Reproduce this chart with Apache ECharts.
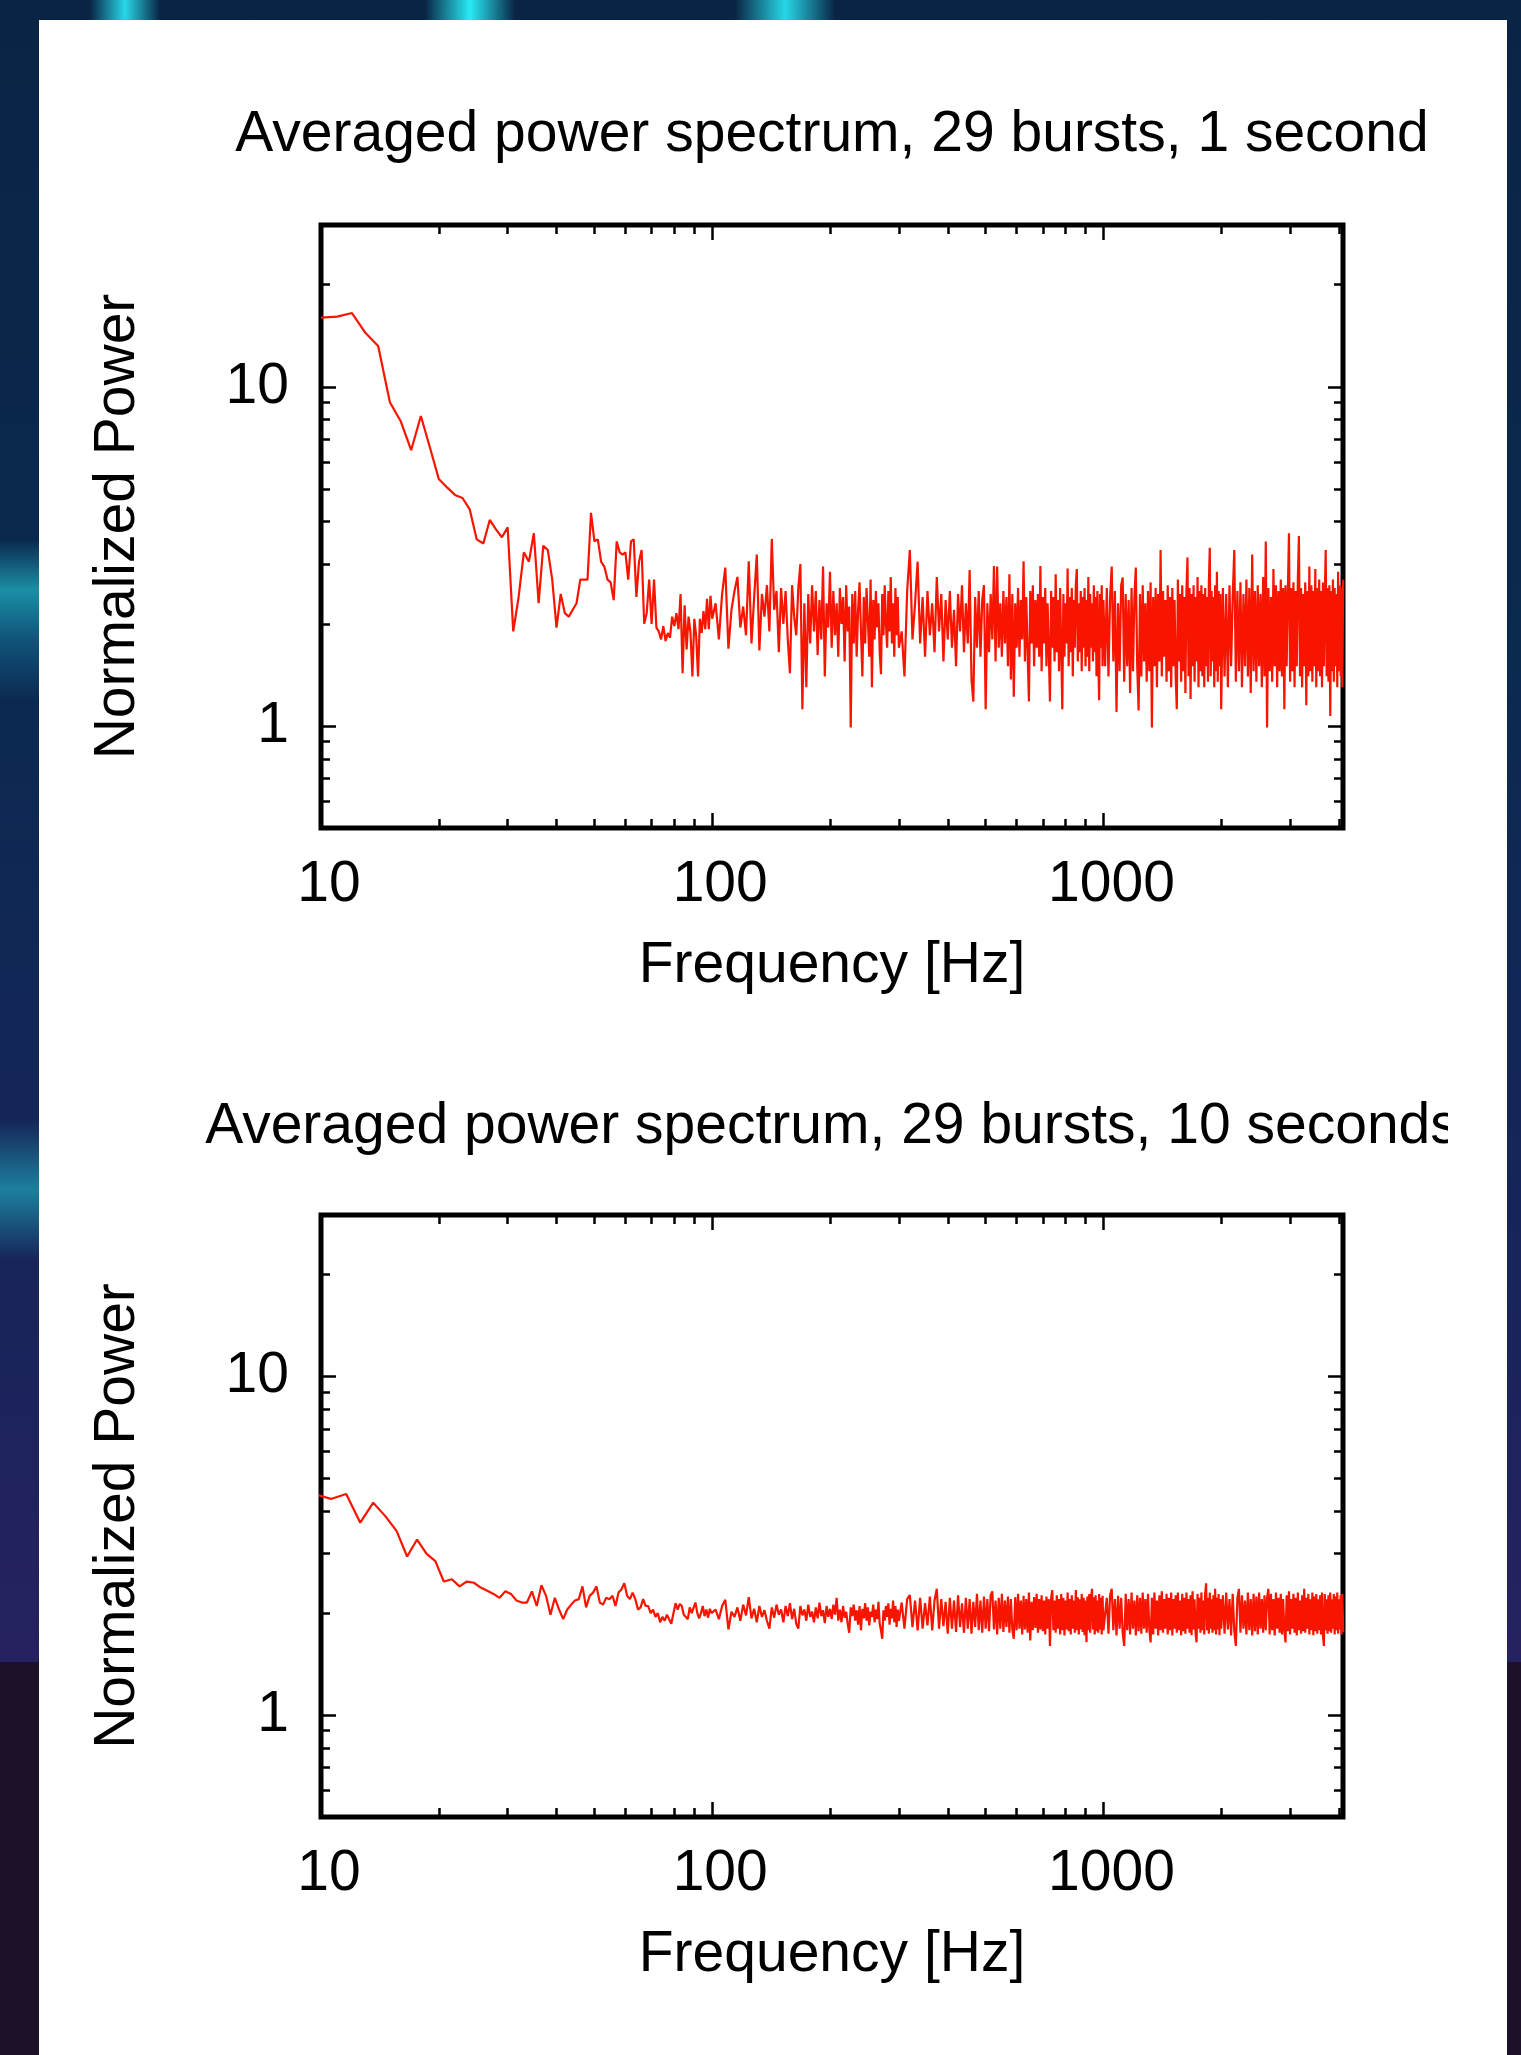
<!DOCTYPE html>
<html><head><meta charset="utf-8">
<script src="https://cdn.jsdelivr.net/npm/echarts@6/dist/echarts.min.js"></script>
<style>
html,body{margin:0;padding:0}
body{width:1521px;height:2055px;overflow:hidden;position:relative;
background:
 linear-gradient(90deg, transparent 90px, rgba(40,225,240,0.95) 125px, transparent 160px, transparent 425px, rgba(40,235,245,1) 470px, transparent 515px, transparent 735px, rgba(40,225,240,0.95) 785px, transparent 835px) left top / 100% 20px no-repeat,
 linear-gradient(180deg, transparent 540px, rgba(30,160,180,0.85) 590px, rgba(20,110,150,0.6) 640px, transparent 700px, transparent 1120px, rgba(30,150,175,0.8) 1190px, transparent 1260px) left top / 39px 1662px no-repeat,
 linear-gradient(180deg, #0a2445 0%, #0b2a50 40%, #17255a 75%, #262160 100%) left top / 100% 1662px no-repeat,
 #1c1129;}
#panel{position:absolute;left:39px;top:20px;width:1468px;height:2035px;background:#fff}
#chart{position:absolute;left:0;top:0;width:1521px;height:2055px}
</style></head><body><div id="panel"></div><div id="chart"></div>
<script>
// ---- data ----
const titleTop = 'Averaged power spectrum, 29 bursts, 1 second';
const titleBottom = 'Averaged power spectrum, 29 bursts, 10 seconds';
const xName = 'Frequency [Hz]';
const yName = 'Normalized Power';
const xMajorTicks = [10, 100, 1000];
const xMinorTicks = [20,30,40,50,60,70,80,90,200,300,400,500,600,700,800,900,2000,3000,4000];
const yMajorTicks = [1, 10];
const yMinorTicks = [0.6,0.7,0.8,0.9,2,3,4,5,6,7,8,9,20];

// frequency bins of each band (Hz): first bin and bin width
const bandStartTop = [10, 102, 305, 1010, 2020];
const bandStartBottom = [9.6, 102, 305, 1010, 2020];
const bandStep = [1, 2, 5, 10, 20];

// 1-second spectrum
const topA = [16.0,16.1,16.5,14.4,13.2,9.0,7.9,6.5,8.2,6.6,5.35,5.05,4.8,4.7,4.35,3.55,3.45,4.05,3.8,3.6,3.85,1.9,2.4,3.25,3.05,3.7,2.3,3.4,3.3,2.7,1.95,2.45,2.15,2.1,2.2,2.3,2.7,2.7,2.7,4.25,3.5,3.55,3.05,2.95,2.7,2.65,2.35,3.5,3.25,3.2,3.25,2.7,3.5,3.55,2.4,3.05,3.3,2.0,2.15,2.7,2.0,2.7,1.95,1.9,1.8,1.97,1.78,1.88,1.82,2.1,1.97,2.15,1.93,2.45,1.43,2.27,1.68,2.1,1.88,1.4,2.07,1.84,1.4,2.07,1.88,2.18,1.93,2.37,1.93,2.42,2.07];
const topB = [2.3,1.8,2.45,2.93,1.69,2.2,2.5,2.75,1.95,2.25,1.85,3.06,1.75,2.4,3.2,1.67,2.45,2.1,2.6,1.9,3.56,2.2,2.5,1.65,2.55,2.0,2.5,1.8,1.43,2.6,2.1,1.85,2.55,3.0,1.12,2.3,1.3,2.45,1.75,2.6,1.9,2.5,1.62,2.35,1.8,2.95,1.4,2.3,1.95,2.85,1.7,2.5,1.85,2.3,1.6,2.55,2.0,2.4,1.55,2.6,1.9,2.25,0.99,2.45,1.75,2.5,1.6,2.2,2.65,1.9,1.4,2.4,1.75,2.55,2.05,1.6,2.7,1.3,2.35,1.8,2.5,1.95,2.3,1.65,1.42,2.45,1.85,2.6,2.0,1.7,2.5,1.9,2.75,1.75,2.3,1.6,2.55,1.85,2.4,1.7];
const topC = [1.9,1.4,2.5,3.3,1.8,2.3,3.05,1.75,2.4,1.6,2.5,1.85,2.3,1.65,2.75,1.9,2.45,1.55,2.35,1.8,2.5,1.7,2.2,1.5,2.45,1.9,2.6,1.65,2.3,1.75,2.88,1.37,1.18,2.4,1.7,2.5,1.6,2.35,2.6,1.12,2.3,1.65,2.45,1.8,2.96,1.55,2.95,1.7,2.3,1.6,2.5,1.75,2.4,1.5,2.8,1.37,2.45,1.22,2.3,1.7,2.55,1.6,2.35,1.8,3.06,1.55,2.4,1.65,1.18,2.5,1.75,2.6,1.5,2.35,1.7,2.45,1.6,2.96,1.45,2.4,1.75,2.55,1.5,2.3,1.65,1.18,2.5,1.7,2.4,1.55,2.8,1.65,2.35,1.45,2.55,1.7,1.12,2.45,1.6,2.3,1.75,2.91,1.5,2.4,1.65,2.55,1.4,2.35,1.7,2.6,2.9,1.55,2.3,1.65,2.5,1.45,2.4,1.7,2.55,1.5,2.35,1.6,2.75,1.45,2.45,1.7,2.3,1.55,2.6,1.65,2.4,1.4,2.5,1.6,1.19,2.45,1.7,2.6,1.5,2.35];
const topD1 = [1.5,2.55,1.4,2.4,2.95,1.55,2.5,1.1,2.3,1.45,2.6,2.74,1.35,2.45,1.5,2.35,1.25,2.55,1.45,2.4,2.93,1.5,1.11,2.45,1.4,2.6,1.55,2.3,1.35,2.5,1.45,2.65,0.99,2.4,1.5,2.55,1.3,2.45,1.55,3.3,1.4,2.5,1.6,2.35,1.35,2.6,1.45,2.4,1.3,2.55,1.5,2.35,1.4,1.12,2.7,1.55,2.45,1.35,2.6,1.45,2.4,1.25,2.5,3.14,1.4,2.55,1.2,2.45,1.5,2.6,1.35,2.4,1.55,2.75,1.3,2.5,1.45,2.6,1.4,2.45,1.3,2.55,1.5,2.4,1.35,2.65,3.35,1.4,2.5,1.55,2.4,1.3,2.6,1.45,2.85,1.35,2.5,1.5,2.45,1.12];
const topD2 = [2.55,1.4,2.45,1.3,2.6,1.5,2.4,3.3,1.35,2.5,1.45,2.65,1.3,2.45,1.5,2.7,1.4,2.55,1.25,3.2,1.45,2.5,1.35,2.6,1.5,2.45,1.3,2.75,1.4,3.5,0.99,2.55,1.45,2.4,1.35,2.9,1.5,2.6,1.3,2.5,1.45,2.7,1.4,2.55,1.12,2.6,1.5,2.45,3.7,1.35,2.55,1.45,2.65,1.3,2.5,1.5,2.7,3.63,1.4,2.55,1.3,2.45,1.5,2.65,1.15,2.5,1.4,2.95,1.45,2.6,1.35,2.5,1.5,2.9,1.3,2.55,1.45,2.7,1.4,2.5,1.3,2.65,1.5,2.45,3.3,1.4,2.55,1.35,2.6,1.07,2.5,1.45,2.7,1.35,2.55,1.5,2.45,1.3,2.85,1.45,2.6,1.4,2.55,1.3,2.7];

// 10-second spectrum
const botA = [4.5,4.35,4.5,3.7,4.24,3.87,3.5,2.94,3.3,3.0,2.85,2.48,2.52,2.4,2.48,2.46,2.38,2.33,2.28,2.22,2.32,2.28,2.18,2.15,2.15,2.32,2.1,2.42,2.25,1.98,2.22,2.05,1.92,2.05,2.12,2.18,2.2,2.4,2.08,2.25,2.3,2.4,2.15,2.12,2.22,2.2,2.25,2.1,2.3,2.35,2.45,2.25,2.2,2.3,2.2,2.05,2.08,2.2,2.1,2.1,2.0,2.05,1.95,2.0,1.88,1.95,1.9,1.98,1.92,1.86,2.0,2.14,2.05,2.13,2.1,1.98,1.95,1.92,2.08,2.0,1.98,2.15,2.0,1.93,2.0,2.1,1.96,2.05,1.94,2.06,2.0];
const botB = [2.05,1.92,2.1,2.19,1.79,2.02,1.95,2.08,1.9,2.12,1.97,2.23,1.93,2.06,1.88,2.1,1.95,2.04,1.9,1.8,2.08,1.94,2.12,1.98,2.05,1.88,2.1,1.96,2.14,1.92,2.06,1.86,1.8,2.1,1.97,2.05,1.9,2.12,1.95,2.02,1.88,2.08,1.93,2.15,1.96,2.04,1.87,2.1,1.95,2.06,1.92,2.12,1.98,2.22,1.9,2.05,1.88,2.1,1.94,2.02,1.86,1.75,2.08,1.96,2.12,1.9,2.04,1.85,2.1,1.78,2.06,1.93,2.14,1.9,2.08,1.84,2.02,1.95,2.12,1.88,2.05,1.92,2.16,1.86,1.78,1.68,2.04,1.9,2.1,1.95,2.14,1.85,2.06,1.93,2.18,1.88,2.1,1.82,2.05,1.9];
const botC = [2.15,1.8,2.2,2.26,1.82,2.18,1.78,2.22,1.8,2.14,1.84,2.24,1.78,2.18,2.36,1.8,2.2,1.83,2.16,1.74,2.22,1.8,2.18,1.76,2.26,1.82,2.14,1.75,2.22,1.8,2.2,1.74,2.16,1.82,2.28,1.78,2.18,1.75,2.24,1.8,2.2,1.77,2.26,2.32,1.79,2.18,1.73,2.22,1.8,2.28,1.76,2.18,1.82,2.24,1.75,2.2,1.79,1.68,2.23,1.78,2.28,1.8,2.18,1.73,2.25,1.79,2.2,1.75,2.3,1.66,2.16,1.78,2.23,1.81,2.28,1.75,2.2,1.79,2.26,1.77,2.18,1.73,2.24,1.8,2.2,1.6,2.22,2.34,1.78,2.18,1.75,2.26,1.8,2.2,1.73,2.28,1.78,2.22,1.72,2.18,1.79,2.3,1.77,2.2,1.73,2.26,1.8,2.18,1.75,2.34,1.78,2.23,1.73,2.2,1.79,2.28,1.76,2.22,1.72,2.18,1.64,2.24,1.78,2.28,1.75,2.2,2.36,1.79,2.23,1.73,2.26,1.77,2.18,1.75,2.28,1.79,2.22,1.73,2.25,1.78];
const botD1 = [1.78,2.22,1.74,2.26,2.36,1.78,2.2,1.72,2.25,1.8,2.22,1.75,1.6,2.28,1.78,2.2,1.73,2.3,1.8,2.18,1.72,2.26,1.77,2.22,1.74,2.3,1.8,2.2,1.75,2.28,1.79,1.64,2.22,1.73,2.3,1.8,2.18,1.72,2.26,1.78,2.32,1.75,2.2,1.8,2.28,1.73,2.22,1.78,2.3,1.72,2.2,1.8,2.26,1.75,2.3,1.78,2.18,1.72,2.28,1.77,2.22,1.74,2.3,1.8,2.2,1.75,2.26,1.72,2.32,1.79,2.2,1.74,1.64,2.28,1.8,2.22,1.75,2.3,1.78,2.18,1.73,2.28,2.45,1.78,2.22,1.74,2.3,1.8,2.2,1.75,2.26,1.78,2.36,1.73,2.22,1.79,2.28,1.72,2.2,1.8];
const botD2 = [2.26,1.74,2.3,1.79,2.2,1.72,2.28,1.78,1.6,2.22,2.36,1.75,2.26,1.8,2.18,1.73,2.3,1.78,2.2,1.72,2.28,1.77,2.24,1.73,2.3,1.8,2.2,1.75,2.26,1.78,2.22,2.36,1.73,2.28,1.78,2.2,1.72,2.3,1.8,2.22,1.75,2.28,1.73,2.2,1.78,1.64,2.26,1.77,2.32,1.73,2.2,1.8,2.28,1.75,2.22,1.72,2.3,1.78,2.18,1.74,2.26,1.77,2.36,1.75,2.22,1.8,2.28,1.73,2.2,1.78,2.3,1.72,2.24,1.77,2.28,1.74,2.2,1.78,2.26,1.73,2.3,1.72,1.6,2.28,1.78,2.2,1.74,2.26,1.77,2.3,1.75,2.2,1.8,2.28,1.73,2.24,1.78,2.3,1.74,2.2,1.79,2.26,1.73,2.28,1.76];

// ---- build ----
function buildSeries(starts, bands) {
  const out = [];
  bands.forEach((vals, b) => {
    vals.forEach((v, i) => out.push([+(starts[b] + i * bandStep[b]).toFixed(2), v]));
  });
  return out;
}
const topData = buildSeries(bandStartTop, [topA, topB, topC, topD1, topD2]);
const botData = buildSeries(bandStartBottom, [botA, botB, botC, botD1, botD2]);

const FONT = '"Liberation Sans", Arial, Helvetica, sans-serif';
const LINE = '#f81500';
const TXT = {fontSize: 57, color: '#000', fontFamily: FONT};
const fmt = v => String(v);

function tick(vals, len) {
  return {show: true, inside: true, length: len, lineStyle: {color: '#000', width: 2.5}, customValues: vals};
}
function makeX(gi) {
  const base = {type: 'log', logBase: 10, gridIndex: gi, min: 10, max: 4096,
    axisLine: {show: false, onZero: false}, splitLine: {show: false}, minorTick: {show: false}};
  return [
    Object.assign({}, base, {position: 'bottom', axisTick: tick(xMajorTicks, 15),
      axisLabel: Object.assign({show: true, customValues: xMajorTicks, formatter: fmt, margin: 29, padding: [0, 0, 0, 16]}, TXT),
      name: xName, nameLocation: 'middle', nameGap: 110, nameTextStyle: TXT}),
    Object.assign({}, base, {position: 'bottom', axisTick: tick(xMinorTicks, 9), axisLabel: {show: false}}),
    Object.assign({}, base, {position: 'top', axisTick: tick(xMajorTicks, 15), axisLabel: {show: false}}),
    Object.assign({}, base, {position: 'top', axisTick: tick(xMinorTicks, 9), axisLabel: {show: false}})
  ];
}
function makeY(gi) {
  const base = {type: 'log', logBase: 10, gridIndex: gi, min: 0.5, max: 30,
    axisLine: {show: false, onZero: false}, splitLine: {show: false}, minorTick: {show: false}};
  return [
    Object.assign({}, base, {position: 'left', axisTick: tick(yMajorTicks, 15),
      axisLabel: Object.assign({show: true, customValues: yMajorTicks, formatter: fmt, margin: 32}, TXT),
      name: yName, nameLocation: 'middle', nameGap: 174, nameRotate: 90, nameTextStyle: TXT}),
    Object.assign({}, base, {position: 'left', axisTick: tick(yMinorTicks, 9), axisLabel: {show: false}}),
    Object.assign({}, base, {position: 'right', axisTick: tick(yMajorTicks, 15), axisLabel: {show: false}}),
    Object.assign({}, base, {position: 'right', axisTick: tick(yMinorTicks, 9), axisLabel: {show: false}})
  ];
}
function lineSeries(idx, data) {
  return {type: 'line', xAxisIndex: idx, yAxisIndex: idx, data: data, showSymbol: false, symbol: 'none',
    lineStyle: {color: LINE, width: 2.2}, itemStyle: {color: LINE}, clip: true, animation: false, z: 3};
}

const chart = echarts.init(document.getElementById('chart'), null, {renderer: 'canvas'});
chart.setOption({
  backgroundColor: 'transparent',
  animation: false,
  title: [
    {text: titleTop, left: 832, top: 107, textAlign: 'center', padding: 0,
     textStyle: Object.assign({fontWeight: 'normal'}, TXT)},
    {text: titleBottom, left: 832, top: 1099, textAlign: 'center', padding: 0,
     textStyle: Object.assign({fontWeight: 'normal'}, TXT)}
  ],
  grid: [
    {left: 321, top: 225, width: 1022, height: 603, show: true, borderColor: '#000', borderWidth: 5, backgroundColor: 'transparent', containLabel: false, outerBoundsMode: 'none'},
    {left: 321, top: 1215, width: 1022, height: 602, show: true, borderColor: '#000', borderWidth: 5, backgroundColor: 'transparent', containLabel: false, outerBoundsMode: 'none'}
  ],
  xAxis: makeX(0).concat(makeX(1)),
  yAxis: makeY(0).concat(makeY(1)),
  series: [lineSeries(0, topData), lineSeries(4, botData)],
  graphic: [
    {type: 'rect', z: 100, shape: {x: 1448, y: 1085, width: 59, height: 90}, style: {fill: '#fff'}}
  ]
});
</script></body></html>
